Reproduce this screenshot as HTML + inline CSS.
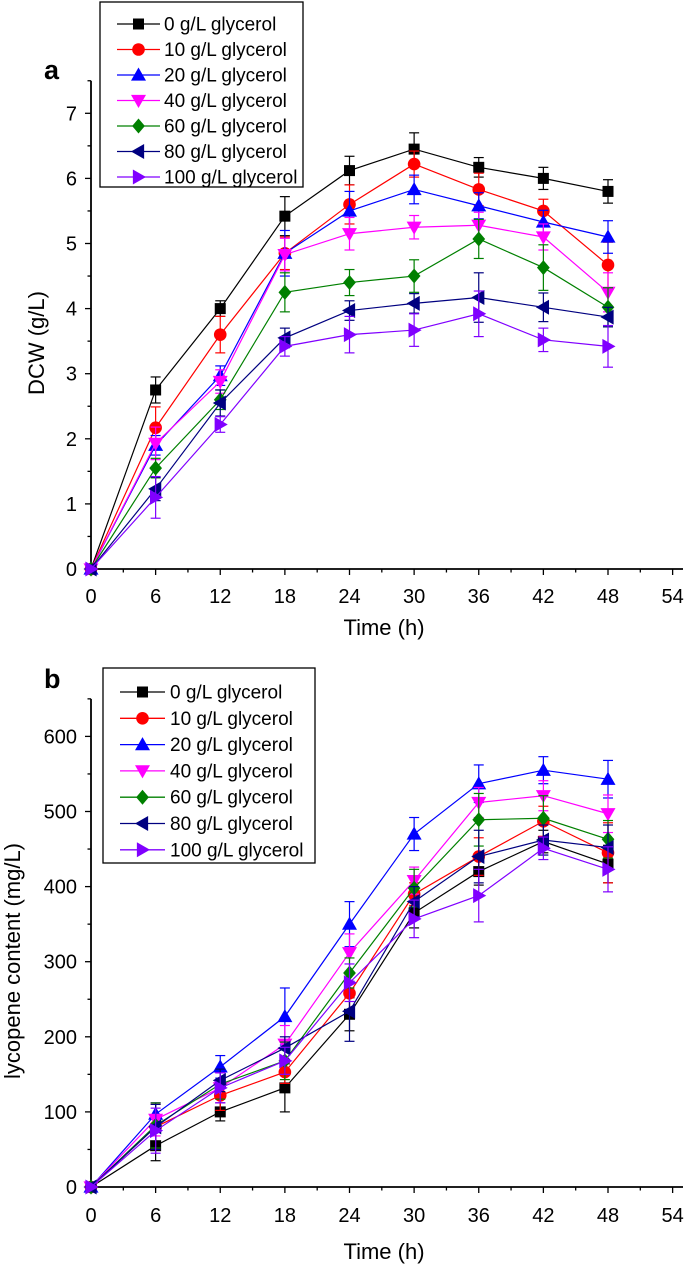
<!DOCTYPE html>
<html><head><meta charset="utf-8"><style>
html,body{margin:0;padding:0;background:#fff}
svg text{font-family:"Liberation Sans",Arial,sans-serif}
</style></head><body>
<svg id="fig" width="685" height="1270" viewBox="0 0 685 1270" xmlns="http://www.w3.org/2000/svg"></svg>
<script>
const times=[0,6,12,18,24,30,36,42,48];
const seriesNames=["0 g/L glycerol","10 g/L glycerol","20 g/L glycerol","40 g/L glycerol","60 g/L glycerol","80 g/L glycerol","100 g/L glycerol"];
const colors=["#000000","#ff0000","#0000ff","#ff00ff","#008000","#000080","#8000ff"];
const markers=["square","circle","up","down","diamond","left","right"];
const dcw0=[0,2.75,4.0,5.42,6.12,6.45,6.17,6.0,5.8];
const dcw10=[0,2.17,3.6,4.85,5.6,6.22,5.83,5.5,4.67];
const dcw20=[0,1.9,2.97,4.85,5.5,5.83,5.58,5.33,5.1];
const dcw40=[0,1.93,2.88,4.83,5.15,5.25,5.28,5.1,4.25];
const dcw60=[0,1.55,2.6,4.25,4.4,4.5,5.07,4.63,4.02];
const dcw80=[0,1.23,2.55,3.55,3.97,4.08,4.17,4.02,3.87];
const dcw100=[0,1.1,2.22,3.42,3.6,3.67,3.92,3.52,3.42];
const dcwErr0=[0,.2,.12,.3,.22,.25,.15,.17,.18];
const dcwErr10=[0,.32,.28,.25,.3,.2,.25,.18,.35];
const dcwErr20=[0,.15,.15,.35,.3,.22,.2,.18,.25];
const dcwErr40=[0,.25,.18,.25,.25,.18,.2,.2,.3];
const dcwErr60=[0,.15,.15,.3,.2,.25,.3,.35,.3];
const dcwErr80=[0,.18,.2,.15,.15,.15,.38,.22,.15];
const dcwErr100=[0,.32,.12,.15,.28,.25,.35,.18,.32];
const lyc0=[0,55,100,132,230,365,420,460,430];
const lyc10=[0,80,122,153,258,390,440,487,445];
const lyc20=[0,97,160,227,350,470,537,555,543];
const lyc40=[0,90,132,190,312,408,512,521,497];
const lyc60=[0,82,137,168,285,398,489,491,463];
const lyc80=[0,80,142,185,234,380,440,462,452];
const lyc100=[0,75,132,168,272,357,388,451,423];
const lycErr0=[0,20,12,32,22,20,18,15,25];
const lycErr10=[0,30,20,15,25,15,25,20,40];
const lycErr20=[0,15,15,38,30,22,25,18,25];
const lycErr40=[0,22,20,25,25,18,20,20,25];
const lycErr60=[0,30,20,25,20,25,35,30,25];
const lycErr80=[0,30,15,15,40,20,35,20,30];
const lycErr100=[0,30,20,18,25,25,35,15,30];
const xTicks=[0,6,12,18,24,30,36,42,48,54];
const dcwTicks=[0,1,2,3,4,5,6,7];
const lycTicks=[0,100,200,300,400,500,600];

const NS="http://www.w3.org/2000/svg";
const svg=document.getElementById('fig');
function el(tag,attrs,parent){const e=document.createElementNS(NS,tag);for(const k in attrs)e.setAttribute(k,attrs[k]);(parent||svg).appendChild(e);return e;}
function marker(g,type,x,y,c,s){
  let e;
  if(type==="square")e=el('rect',{x:x-s,y:y-s,width:2*s,height:2*s,fill:c},g);
  else if(type==="circle")e=el('circle',{cx:x,cy:y,r:s+0.8,fill:c},g);
  else{let p;const r=s+2;
    if(type==="up")p=[[x,y-r],[x+r,y+r*0.75],[x-r,y+r*0.75]];
    if(type==="down")p=[[x,y+r],[x+r,y-r*0.75],[x-r,y-r*0.75]];
    if(type==="diamond")p=[[x,y-r],[x+r*0.85,y],[x,y+r],[x-r*0.85,y]];
    if(type==="left")p=[[x-r,y],[x+r*0.75,y-r],[x+r*0.75,y+r]];
    if(type==="right")p=[[x+r,y],[x-r*0.75,y-r],[x-r*0.75,y+r]];
    e=el('polygon',{points:p.map(q=>q.join(',')).join(' '),fill:c},g);}
  return e;
}
function chart(cfg){
  const g=el('g',{});
  
  
  const X=t=>cfg.x0+(t-0)*(cfg.x1-cfg.x0)/48;
  const Y=v=>cfg.y0-v*cfg.py;
  const ax=el('line',{x1:cfg.x0,y1:cfg.y0,x2:683,y2:cfg.y0,stroke:'#000','stroke-width':1.8},g);
  
  const ay=el('line',{x1:cfg.x0,y1:cfg.y0,x2:cfg.x0,y2:Y(cfg.ymax),stroke:'#000','stroke-width':1.8},g);
  
  for(let t=0;t<=54;t+=3){const maj=t%6===0;el('line',{x1:X(t),x2:X(t),y1:cfg.y0,y2:cfg.y0+(maj?6:3.5),stroke:'#000','stroke-width':1.3},g);}
  xTicks.forEach(t=>{const tx=el('text',{x:X(t),y:cfg.y0+cfg.tickDy,'text-anchor':'middle','font-size':20},g);tx.textContent=t;
    });
  for(let v=0;v<=cfg.ymax+1e-9;v+=cfg.ystep/2){const maj=Math.abs(v/cfg.ystep-Math.round(v/cfg.ystep))<1e-6;el('line',{x1:cfg.x0,x2:cfg.x0-(maj?6:3.5),y1:Y(v),y2:Y(v),stroke:'#000','stroke-width':1.3},g);}
  cfg.yTicks.forEach(v=>{const tx=el('text',{x:cfg.x0-14,y:Y(v)+7,'text-anchor':'end','font-size':20},g);tx.textContent=v;
    });
  const xt=el('text',{x:384,y:cfg.y0+cfg.titleDy,'text-anchor':'middle','font-size':22},g);xt.textContent='Time (h)';
  
  const yt=el('text',{x:0,y:0,'text-anchor':'middle','font-size':22,transform:`translate(${cfg.ytx},${cfg.yty}) rotate(-90)`},g);yt.textContent=cfg.ytitle;
  
  const pl=el('text',{x:44,y:cfg.panelY,'font-size':27,'font-weight':'bold','font-family':'Liberation Serif, serif'},g);pl.textContent=cfg.panel;
  
  cfg.data.forEach((d,i)=>{
    const sg=el('g',{},g);
    
    
    const c=colors[i];
    el('polyline',{points:d.map((v,j)=>X(times[j])+','+Y(v)).join(' '),fill:'none',stroke:c,'stroke-width':1.2},sg);
    d.forEach((v,j)=>{const e=cfg.err[i][j];if(e>0){
      el('line',{x1:X(times[j]),x2:X(times[j]),y1:Y(v-e),y2:Y(v+e),stroke:c,'stroke-width':1.2},sg);
      el('line',{x1:X(times[j])-5,x2:X(times[j])+5,y1:Y(v-e),y2:Y(v-e),stroke:c,'stroke-width':1.2},sg);
      el('line',{x1:X(times[j])-5,x2:X(times[j])+5,y1:Y(v+e),y2:Y(v+e),stroke:c,'stroke-width':1.2},sg);}});
    d.forEach((v,j)=>{const m=marker(sg,markers[i],X(times[j]),Y(v),c,5.5);
      });
  });
  const lg=el('g',{},g);
  
  
  el('rect',{x:cfg.lx,y:cfg.ly,width:cfg.lw,height:cfg.lh,fill:'#fff',stroke:'#000','stroke-width':1.3},lg);
  seriesNames.forEach((n,i)=>{
    const eg=el('g',{},lg);
    
    
    const yy=cfg.ry0+i*cfg.rs;
    el('line',{x1:cfg.l1,x2:cfg.l2,y1:yy,y2:yy,stroke:colors[i],'stroke-width':1.3},eg);
    marker(eg,markers[i],(cfg.l1+cfg.l2)/2,yy,colors[i],5.5);
    const t=el('text',{x:cfg.tx,y:yy+6.5,'font-size':19},eg);t.textContent=n;
  });
}
chart({name:'dcw-chart',x0:91,x1:608,y0:569,py:65.1,ymax:7.5,ystep:1,yTicks:dcwTicks,ytitle:'DCW (g/L)',ytx:44,yty:343,panel:'a',panelY:79,
  tickDy:34,titleDy:66,
  data:[dcw0,dcw10,dcw20,dcw40,dcw60,dcw80,dcw100],err:[dcwErr0,dcwErr10,dcwErr20,dcwErr40,dcwErr60,dcwErr80,dcwErr100],
  lx:100,ly:2,lw:203,lh:185,l1:117,l2:160,tx:164,ry0:24,rs:25.5});
chart({name:'lycopene-chart',x0:91,x1:608,y0:1187,py:0.751,ymax:650,ystep:100,yTicks:lycTicks,ytitle:'lycopene content (mg/L)',ytx:20,yty:961,panel:'b',panelY:688,
  tickDy:35,titleDy:72,
  data:[lyc0,lyc10,lyc20,lyc40,lyc60,lyc80,lyc100],err:[lycErr0,lycErr10,lycErr20,lycErr40,lycErr60,lycErr80,lycErr100],
  lx:103,ly:668,lw:212,lh:195,l1:120,l2:165,tx:170,ry0:692,rs:26.3});
</script>
</body></html>
